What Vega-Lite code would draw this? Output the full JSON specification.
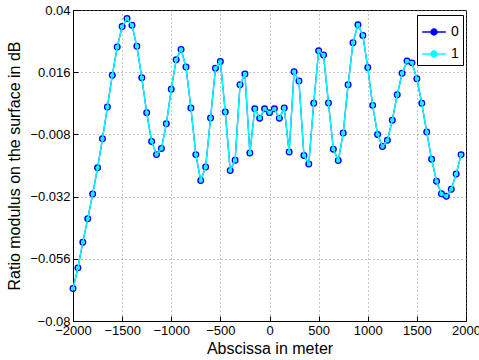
{
  "$schema": "https://vega.github.io/schema/vega-lite/v6.json",
  "width": 393,
  "height": 311,
  "autosize": {"type": "none"},
  "padding": {"left": 73, "top": 10, "right": 13, "bottom": 39},
  "background": "white",
  "config": {
    "font": "Liberation Sans",
    "view": {"stroke": "black", "strokeWidth": 1},
    "axis": {
      "labelFont": "Liberation Sans",
      "titleFont": "Liberation Sans",
      "labelFontSize": 13,
      "titleFontSize": 16,
      "titleFontWeight": "normal",
      "labelColor": "black",
      "titleColor": "black",
      "domainColor": "black",
      "tickColor": "black",
      "tickSize": -5,
      "labelFlush": false,
      "labelOverlap": false,
      "labelBound": false,
      "grid": true,
      "gridColor": "#777777",
      "gridDash": [1, 3],
      "gridWidth": 0.8
    }
  },
  "data": {
    "values": [
      {"x": -2000, "s0": -0.0675, "s1": -0.0675},
      {"x": -1950, "s0": -0.0595, "s1": -0.0595},
      {"x": -1900, "s0": -0.0496, "s1": -0.0496},
      {"x": -1850, "s0": -0.0405, "s1": -0.0405},
      {"x": -1800, "s0": -0.031, "s1": -0.031},
      {"x": -1750, "s0": -0.0209, "s1": -0.0209},
      {"x": -1700, "s0": -0.0097, "s1": -0.0097},
      {"x": -1650, "s0": 0.0026, "s1": 0.0026},
      {"x": -1600, "s0": 0.0148, "s1": 0.0148},
      {"x": -1550, "s0": 0.0257, "s1": 0.0257},
      {"x": -1500, "s0": 0.0336, "s1": 0.0336},
      {"x": -1450, "s0": 0.0367, "s1": 0.0367},
      {"x": -1400, "s0": 0.0341, "s1": 0.0341},
      {"x": -1350, "s0": 0.026, "s1": 0.026},
      {"x": -1300, "s0": 0.0139, "s1": 0.0139},
      {"x": -1250, "s0": 0.0004, "s1": 0.0004},
      {"x": -1200, "s0": -0.0107, "s1": -0.0107},
      {"x": -1150, "s0": -0.0158, "s1": -0.0158},
      {"x": -1100, "s0": -0.0134, "s1": -0.0134},
      {"x": -1050, "s0": -0.0039, "s1": -0.0039},
      {"x": -1000, "s0": 0.0094, "s1": 0.0094},
      {"x": -950, "s0": 0.0208, "s1": 0.0208},
      {"x": -900, "s0": 0.0248, "s1": 0.0248},
      {"x": -850, "s0": 0.018, "s1": 0.018},
      {"x": -800, "s0": 0.0022, "s1": 0.0022},
      {"x": -750, "s0": -0.0158, "s1": -0.0158},
      {"x": -700, "s0": -0.0258, "s1": -0.0258},
      {"x": -650, "s0": -0.0206, "s1": -0.0206},
      {"x": -600, "s0": -0.0017, "s1": -0.0017},
      {"x": -550, "s0": 0.0175, "s1": 0.0175},
      {"x": -500, "s0": 0.0201, "s1": 0.0201},
      {"x": -450, "s0": 0.0006, "s1": 0.0006},
      {"x": -400, "s0": -0.0219, "s1": -0.0219},
      {"x": -350, "s0": -0.018, "s1": -0.018},
      {"x": -300, "s0": 0.0112, "s1": 0.0112},
      {"x": -250, "s0": 0.0153, "s1": 0.0153},
      {"x": -200, "s0": -0.0152, "s1": -0.0152},
      {"x": -150, "s0": 0.0019, "s1": 0.0019},
      {"x": -100, "s0": -0.0018, "s1": -0.0018},
      {"x": -50, "s0": 0.0019, "s1": 0.0019},
      {"x": 0, "s0": 0.0004, "s1": 0.0004},
      {"x": 50, "s0": 0.0019, "s1": 0.0019},
      {"x": 100, "s0": -0.0018, "s1": -0.0018},
      {"x": 150, "s0": 0.0022, "s1": 0.0022},
      {"x": 200, "s0": -0.0148, "s1": -0.0148},
      {"x": 250, "s0": 0.0162, "s1": 0.0162},
      {"x": 300, "s0": 0.0126, "s1": 0.0126},
      {"x": 350, "s0": -0.0161, "s1": -0.0161},
      {"x": 400, "s0": -0.0194, "s1": -0.0194},
      {"x": 450, "s0": 0.004, "s1": 0.004},
      {"x": 500, "s0": 0.0243, "s1": 0.0243},
      {"x": 550, "s0": 0.0226, "s1": 0.0226},
      {"x": 600, "s0": 0.0041, "s1": 0.0041},
      {"x": 650, "s0": -0.0137, "s1": -0.0137},
      {"x": 700, "s0": -0.0181, "s1": -0.0181},
      {"x": 750, "s0": -0.0075, "s1": -0.0075},
      {"x": 800, "s0": 0.0112, "s1": 0.0112},
      {"x": 850, "s0": 0.0274, "s1": 0.0274},
      {"x": 900, "s0": 0.0343, "s1": 0.0343},
      {"x": 950, "s0": 0.0302, "s1": 0.0302},
      {"x": 1000, "s0": 0.0178, "s1": 0.0178},
      {"x": 1050, "s0": 0.0032, "s1": 0.0032},
      {"x": 1100, "s0": -0.008, "s1": -0.008},
      {"x": 1150, "s0": -0.0127, "s1": -0.0127},
      {"x": 1200, "s0": -0.0103, "s1": -0.0103},
      {"x": 1250, "s0": -0.0025, "s1": -0.0025},
      {"x": 1300, "s0": 0.0073, "s1": 0.0073},
      {"x": 1350, "s0": 0.0156, "s1": 0.0156},
      {"x": 1400, "s0": 0.0203, "s1": 0.0203},
      {"x": 1450, "s0": 0.0196, "s1": 0.0196},
      {"x": 1500, "s0": 0.0135, "s1": 0.0135},
      {"x": 1550, "s0": 0.004, "s1": 0.004},
      {"x": 1600, "s0": -0.0071, "s1": -0.0071},
      {"x": 1650, "s0": -0.0176, "s1": -0.0176},
      {"x": 1700, "s0": -0.0261, "s1": -0.0261},
      {"x": 1750, "s0": -0.0309, "s1": -0.0309},
      {"x": 1800, "s0": -0.0319, "s1": -0.0319},
      {"x": 1850, "s0": -0.0292, "s1": -0.0292},
      {"x": 1900, "s0": -0.0233, "s1": -0.0233},
      {"x": 1950, "s0": -0.0158, "s1": -0.0158}
    ]
  },
  "transform": [{"fold": ["s0", "s1"], "as": ["series", "y"]}],
  "encoding": {
    "x": {
      "field": "x",
      "type": "quantitative",
      "scale": {"domain": [-2000, 2000], "nice": false, "zero": false},
      "axis": {
        "values": [-2000, -1500, -1000, -500, 0, 500, 1000, 1500, 2000],
        "format": "d",
        "title": "Abscissa in meter",
        "labelPadding": 8,
        "titleY": 19,
        "titleBaseline": "top"
      }
    },
    "y": {
      "field": "y",
      "type": "quantitative",
      "scale": {"domain": [-0.08, 0.04], "nice": false, "zero": false},
      "axis": {
        "values": [-0.08, -0.056, -0.032, -0.008, 0.016, 0.04],
        "format": ".3~f",
        "title": "Ratio modulus on the surface in dB",
        "labelPadding": 8,
        "titleX": -51,
        "titleBaseline": "bottom"
      }
    },
    "color": {
      "field": "series",
      "type": "nominal",
      "scale": {"domain": ["s0", "s1"], "range": ["#0000ff", "#00ffff"]},
      "legend": {
        "title": null,
        "orient": "none",
        "legendX": 344,
        "legendY": 5,
        "labelExpr": "datum.label == 's0' ? '0' : '1'",
        "labelFontSize": 14,
        "labelFont": "Liberation Sans",
        "labelColor": "black",
        "strokeColor": "black",
        "fillColor": "white",
        "padding": 4,
        "rowPadding": 2,
        "symbolType": "M-1,0H-0.25M0.25,0H1M-0.25,0A0.25,0.25 0 1,1 0.25,0A0.25,0.25 0 1,1 -0.25,0",
        "symbolSize": 560,
        "symbolStrokeWidth": 1.5,
        "encode": {"symbols": {"update": {"fill": {"value": "transparent"}}}}
      }
    }
  },
  "layer": [
    {
      "transform": [{"filter": "datum.series == 's0'"}],
      "mark": {"type": "line", "strokeWidth": 1.2}
    },
    {
      "transform": [{"filter": "datum.series == 's0'"}],
      "mark": {"type": "point", "shape": "circle", "filled": false, "size": 30, "strokeWidth": 1.5, "opacity": 1}
    },
    {
      "transform": [{"filter": "datum.series == 's1'"}],
      "mark": {"type": "line", "strokeWidth": 1.5}
    },
    {
      "transform": [{"filter": "datum.series == 's1'"}],
      "mark": {"type": "point", "shape": "square", "filled": true, "size": 12, "opacity": 1}
    }
  ]
}
